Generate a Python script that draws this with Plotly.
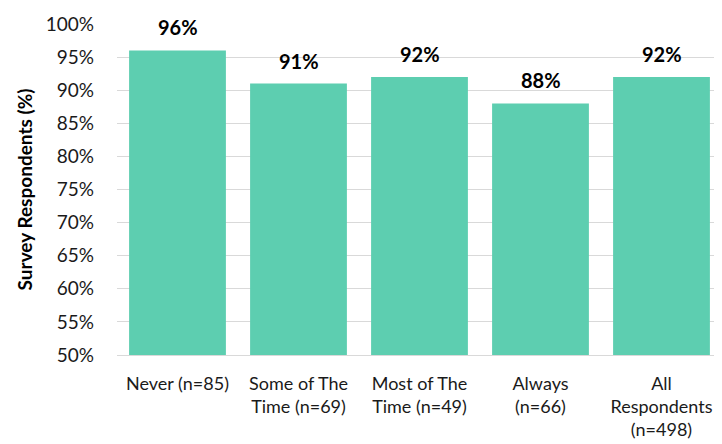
import plotly.graph_objects as go

# data
categories = [
    "Never (n=85)",
    "Some of The<br>Time (n=69)",
    "Most of The<br>Time (n=49)",
    "Always<br>(n=66)",
    "All<br>Respondents<br>(n=498)",
]
values = [96, 91, 92, 88, 92]
labels = [f"{v}%" for v in values]

bar_color = "#5DCEB0"
font_family = "Lato, 'Open Sans', sans-serif"
text_color = "#1a1a1a"

fig = go.Figure()
fig.add_trace(go.Bar(
    x=categories,
    y=values,
    marker=dict(color=bar_color, line=dict(width=0)),
    hoverinfo="x+y",
))

# value labels above bars
for c, v, t in zip(categories, values, labels):
    fig.add_annotation(
        x=c, y=v, text=f"<b>{t}</b>", showarrow=False,
        yanchor="bottom", yshift=9,
        font=dict(size=20, color="#000000", family=font_family),
    )

# page body has an 8px margin, so margins are offset by that
fig.update_layout(
    width=722,
    height=444,
    margin=dict(l=109, r=8, t=16, b=97),
    plot_bgcolor="white",
    paper_bgcolor="white",
    bargap=0.2,
    showlegend=False,
    font=dict(family=font_family, size=17, color=text_color),
)

fig.update_yaxes(
    range=[50, 100],
    dtick=5,
    ticksuffix="%",
    showgrid=True,
    gridcolor="#d9d9d9",
    gridwidth=1,
    zeroline=False,
    automargin=False,
    tickfont=dict(size=19, color=text_color),
    ticklabelstandoff=22,
    title=dict(text="<b>Survey Respondents (%)</b>",
               font=dict(size=19, color="#000000"), standoff=8),
)
fig.update_xaxes(
    showline=True,
    linecolor="#d9d9d9",
    linewidth=1,
    automargin=False,
    tickfont=dict(size=18, color=text_color),
    ticklabelstandoff=12,
)

fig.write_html("out.html")
